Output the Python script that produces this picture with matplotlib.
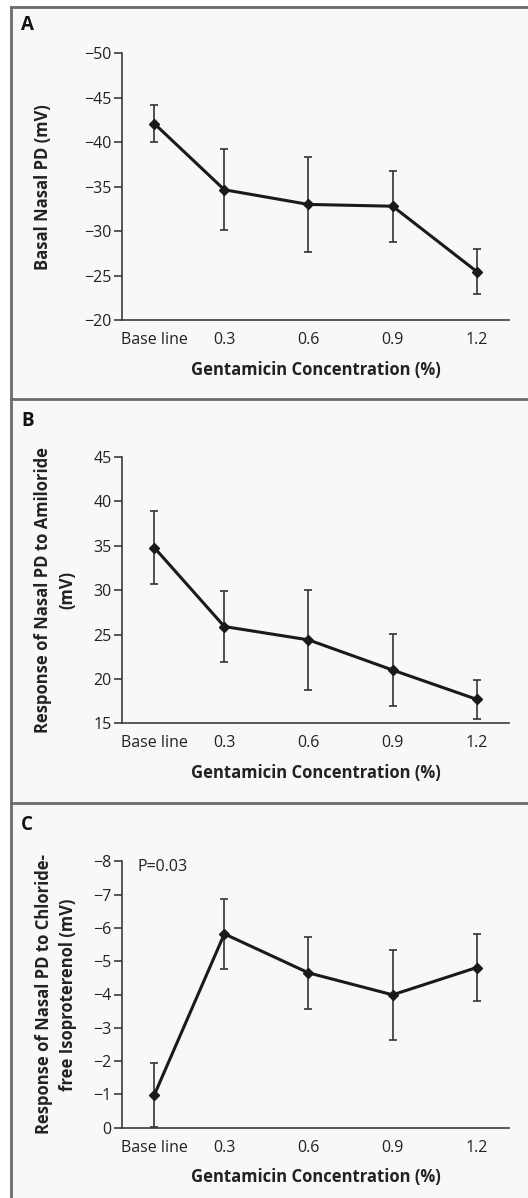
import numpy as np
import matplotlib.pyplot as plt
from matplotlib.lines import Line2D
from matplotlib.patches import Rectangle

plt.rcParams['font.family'] = ['Open Sans', 'DejaVu Sans']

# data
x_labels = ['Base line', '0.3', '0.6', '0.9', '1.2']
x_pos = [0.05, 0.3, 0.6, 0.9, 1.2]

basal_mean = [-42.1, -34.65, -33.0, -32.8, -25.45]
basal_err = [2.1, 4.55, 5.3, 4.0, 2.55]

amil_mean = [34.8, 25.9, 24.4, 21.0, 17.7]
amil_err = [4.1, 3.95, 5.65, 4.1, 2.2]

iso_mean = [-0.98, -5.82, -4.65, -3.99, -4.81]
iso_err = [0.97, 1.05, 1.09, 1.36, 1.02]

W, H = 528, 1198
fig = plt.figure(figsize=(W / 100, H / 100), dpi=100)
fig.patch.set_facecolor('white')

# panel background and frame lines (pixel coords -> figure fraction)
def fx(px):
    return px / W

def fy(py):
    return 1 - py / H

fig.add_artist(Rectangle((fx(10.5), 0), 1 - fx(10.5), fy(7), transform=fig.transFigure,
                         facecolor='#f8f8f8', edgecolor='none', zorder=0))
frame_col = '#6b6b6b'
fig.add_artist(Line2D([fx(10.5), fx(10.5)], [0, fy(7)], transform=fig.transFigure, color=frame_col, lw=2))
for py in [7, 399, 803]:
    fig.add_artist(Line2D([fx(10.5), 1], [fy(py), fy(py)], transform=fig.transFigure, color=frame_col, lw=2))

ax_col = '#3c3c3c'


def make_panel(top_px, bottom_px, mean, err, yticks, ylim, ylabel, ylabel_x, letter, letter_y):
    ax = fig.add_axes([fx(122), fy(bottom_px), fx(509) - fx(122), (bottom_px - top_px) / H])
    ax.set_facecolor('none')
    ax.errorbar(x_pos, mean, yerr=err, fmt='none', ecolor='#333333', elinewidth=1.2,
                capsize=3, capthick=1.2, zorder=2, clip_on=False)
    ax.plot(x_pos, mean, color='#1a1a1a', lw=2.2, marker='D', markersize=5,
            zorder=3, clip_on=False)
    ax.set_xlim(-0.065, 1.315)
    ax.set_ylim(*ylim)
    ax.set_yticks(yticks)
    ax.set_xticks(x_pos)
    ax.set_xticklabels(x_labels)
    for s in ['top', 'right']:
        ax.spines[s].set_visible(False)
    for s in ['left', 'bottom']:
        ax.spines[s].set_color(ax_col)
        ax.spines[s].set_linewidth(1.2)
    ax.tick_params(axis='y', length=6, width=1.2, color=ax_col, labelsize=11.5,
                   labelcolor='#222222', pad=1.5)
    ax.tick_params(axis='x', length=0, labelsize=11.5, labelcolor='#222222', pad=8.5)
    ax.set_xlabel('Gentamicin Concentration (%)', fontsize=12, fontweight='bold', color='#222222')
    ax.xaxis.set_label_coords(0.5, -0.152)
    ax.set_ylabel(ylabel, fontsize=12, fontweight='bold', color='#222222', linespacing=1.45)
    ax.yaxis.set_label_coords(ylabel_x, 0.5)
    fig.text(fx(21), fy(letter_y), letter, fontsize=13.5, fontweight='bold', color='#111111',
             va='top', ha='left')
    return ax


make_panel(53.3, 320, basal_mean, basal_err, np.arange(-50, -19, 5), (-20, -50),
           'Basal Nasal PD (mV)', -0.18, 'A', 15.5)
make_panel(457, 723.3, amil_mean, amil_err, np.arange(15, 46, 5), (15, 45),
           'Response of Nasal PD to Amiloride\n(mV)', -0.118, 'B', 410.5)
axc = make_panel(861.3, 1127.7, iso_mean, iso_err, np.arange(-8, 1, 1), (0, -8),
                 'Response of Nasal PD to Chloride-\nfree Isoproterenol (mV)', -0.116, 'C', 815.5)
axc.text(0.039, 1.01, 'P=0.03', transform=axc.transAxes, fontsize=11.5, color='#222222',
         va='top', ha='left')

fig.savefig('out.png', dpi=100, facecolor=fig.get_facecolor())
